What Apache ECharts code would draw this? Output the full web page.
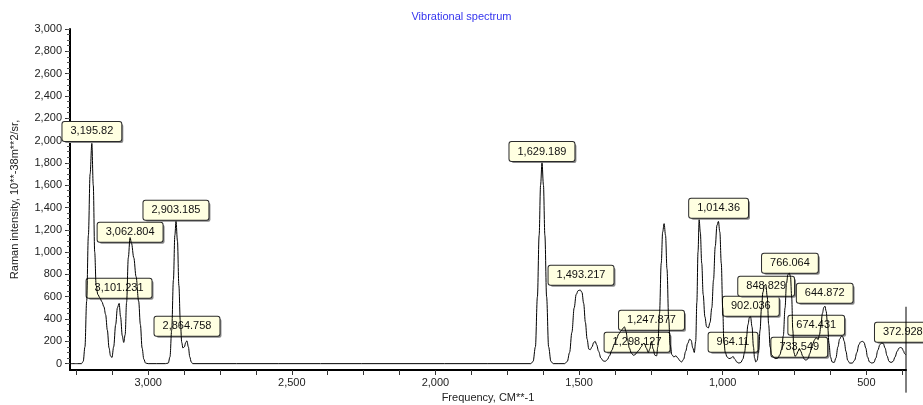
<!DOCTYPE html>
<html>
<head>
<meta charset="utf-8">
<script src="https://cdn.jsdelivr.net/npm/echarts@6/dist/echarts.min.js"></script>
<style>
html,body{margin:0;padding:0;background:#fff;}
#chart{width:923px;height:405px;}
</style>
</head>
<body>
<div id="chart"></div>
<script>
// ---- data ----
const specFreq = [3272,3245,3232,3226,3220,3214,3208,3202,3196,3191,3186,3181,3175,3168,3161,3154,3148,3142,3136,3131,3126,3120,3113,3107,3101,3096,3090,3085,3080,3075,3069,3063,3058,3050,3042,3033,3027,3021,3015,3009,3000,
2940,2930,2924,2918,2912,2907,2903,2898,2893,2888,2883,2879,2874,2869,2865,2860,2855,2850,2845,
1668,1660,1652,1645,1639,1634,1629,1624,1619,1613,1606,1598,1590,
1550,1541,1533,1525,1517,1510,1503,1496,1490,1484,1478,1472,1466,1461,1455,1449,1444,1439,1432,1424,1416,1409,1402,1394,1386,1378,1370,1362,1355,1349,1342,1337,1331,1325,1318,1311,1305,1299,1292,1284,1277,1272,1266,1259,1254,1248,1242,1236,1230,1226,1220,1214,1209,1204,1199,1194,1188,1183,1177,1170,1163,1156,1149,1143,1136,1129,1122,1115,1110,1104,1099,1094,1090,1086,1082,1078,1073,1068,1062,1056,1050,1044,1038,1032,1026,1020,1015,1010,1005,1000,996,991,985,978,971,964,958,951,944,937,930,924,918,912,907,903,898,893,889,885,880,875,870,865,860,855,850,845,840,835,830,822,815,808,801,795,789,783,778,773,768,764,760,756,752,748,743,738,733,728,722,716,710,703,697,691,686,681,676,672,668,663,658,653,648,644,640,635,630,625,619,612,606,599,593,587,582,577,571,565,558,549,541,533,526,520,514,508,502,496,489,481,474,467,460,453,447,441,435,428,421,414,407,400,393,386,381,376,371,367,363];
const specInt = [0,0,0,20,150,560,1150,1700,1975,1600,1000,700,620,590,555,510,440,300,140,70,55,150,350,500,540,420,250,190,260,550,950,1130,1080,950,780,560,350,140,40,5,0,
0,5,60,300,750,1150,1275,1100,700,380,190,140,150,190,205,150,60,15,0,
0,20,150,600,1150,1600,1800,1600,1150,600,150,20,0,
0,20,100,280,500,620,655,660,640,540,370,220,130,125,150,190,200,170,110,50,25,20,35,70,120,170,220,265,290,310,330,290,210,140,95,75,80,100,120,150,180,180,140,100,130,200,130,75,70,150,450,900,1180,1255,1150,850,400,170,80,60,70,50,25,15,40,110,180,220,210,140,100,200,550,1000,1290,1180,900,620,420,330,320,370,500,750,1050,1240,1275,1180,900,500,200,100,60,45,50,65,40,15,5,10,40,100,220,350,415,420,330,150,50,15,30,120,300,500,640,700,710,600,350,150,80,55,45,50,80,130,250,500,720,800,810,780,600,300,100,65,80,110,135,110,70,40,30,45,90,140,180,210,230,230,215,260,350,450,505,515,470,350,180,60,15,10,50,150,220,245,240,200,110,30,5,5,30,100,170,195,200,190,140,60,15,5,10,50,120,170,185,180,140,70,20,10,20,60,110,140,145,140,115,90,80];

const labelText = ['3,195.82','3,101.231','3,062.804','2,903.185','2,864.758','1,629.189','1,493.217','1,247.877','1,298.127','1,014.36','964.11','902.036','848.829','766.064','674.431','644.872','733.549','372.928'];
const labelFreq = [3195.82,3101.231,3062.804,2903.185,2864.758,1629.189,1493.217,1247.877,1298.127,1014.36,964.11,902.036,848.829,766.064,674.431,644.872,733.549,372.928];
const labelInt  = [1970,564,1065,1262,224,1790,680,277,80,1280,80,403,582,788,233,519,36,170];

const xLabelValues = [3000,2500,2000,1500,1000,500];
const xTickValues  = [3250,3125,3000,2875,2750,2625,2500,2375,2250,2125,2000,1875,1750,1625,1500,1375,1250,1125,1000,875,750,625,500,375];
const yLabelValues = [0,200,400,600,800,1000,1200,1400,1600,1800,2000,2200,2400,2600,2800,3000];

const cursorFreq = 362;
const cursorTop = 510;
const cursorBottom = -260;

// ---- layout / style ----
const FAMILY = '"Liberation Sans", Arial, sans-serif';
const FONT = '11px ' + FAMILY;
const yMinor = [];
for (let v = 0; v <= 3000; v += 50) yMinor.push(v);

const chart = echarts.init(document.getElementById('chart'), null, {renderer: 'canvas'});

const lineData = specFreq.map((f, i) => [f, specInt[i]]);
const labelData = labelFreq.map((f, i) => [f, labelInt[i]]);

const fmt = v => Number(v).toLocaleString('en-US');

const option = {
  animation: false,
  backgroundColor: '#ffffff',
  title: {
    text: 'Vibrational spectrum',
    left: 'center',
    top: 11,
    padding: 0,
    textStyle: {color: '#3535ee', fontSize: 11, fontWeight: 'normal', fontFamily: FAMILY}
  },
  grid: {left: 70, right: 17, top: 29, bottom: 35, containLabel: false, outerBoundsMode: 'none'},
  xAxis: {
    type: 'value',
    inverse: true,
    min: cursorFreq,
    max: 3272,
    name: 'Frequency, CM**-1',
    nameLocation: 'middle',
    nameGap: 21,
    nameTextStyle: {color: '#222', fontSize: 11, fontFamily: FAMILY},
    axisLine: {show: true, onZero: false, lineStyle: {color: '#000', width: 2}},
    axisTick: {show: true, length: 5, customValues: xTickValues, lineStyle: {color: '#333'}},
    axisLabel: {customValues: xLabelValues, formatter: fmt, color: '#222', fontSize: 11, margin: 7, fontFamily: FAMILY},
    splitLine: {show: false}
  },
  yAxis: [{
    type: 'value',
    min: -57,
    max: 3000,
    name: 'Raman intensity, 10**-38m**2/sr,',
    nameLocation: 'middle',
    nameGap: 50,
    nameTextStyle: {color: '#222', fontSize: 11, fontFamily: FAMILY},
    axisLine: {show: true, onZero: false, lineStyle: {color: '#000', width: 2}},
    axisTick: {show: true, length: 5, customValues: yLabelValues, lineStyle: {color: '#333'}},
    axisLabel: {customValues: yLabelValues, formatter: fmt, color: '#222', fontSize: 11, margin: 8, fontFamily: FAMILY},
    splitLine: {show: false}
  }, {
    type: 'value',
    min: -57,
    max: 3000,
    position: 'left',
    axisLine: {show: false},
    axisTick: {show: true, length: 3, customValues: yMinor, lineStyle: {color: '#555'}},
    axisLabel: {show: false},
    splitLine: {show: false}
  }],
  series: [{
    type: 'custom',
    z: 2,
    clip: false,
    data: labelData,
    encode: {x: 0, y: 1},
    renderItem: function (params, api) {
      const p = api.coord([api.value(0), api.value(1)]);
      const t = labelText[params.dataIndex];
      const base = {
        text: t, font: FONT, align: 'center', verticalAlign: 'bottom',
        padding: [3, 8, 3, 8], lineHeight: 13, borderRadius: 2
      };
      return {
        type: 'group',
        children: [{
          type: 'text', x: p[0] + 2, y: p[1] - 3 + 2,
          style: Object.assign({}, base, {fill: 'rgba(0,0,0,0)', backgroundColor: '#8a8a8a'})
        }, {
          type: 'text', x: p[0], y: p[1] - 3,
          style: Object.assign({}, base, {fill: '#111', backgroundColor: '#ffffe1', borderColor: '#2a2a2a', borderWidth: 1})
        }]
      };
    }
  }, {
    type: 'line',
    z: 5,
    data: lineData,
    showSymbol: false,
    smooth: 0.35,
    smoothMonotone: 'x',
    lineStyle: {color: '#000', width: 1},
    silent: true
  }]
};
chart.setOption(option);

const pTop = chart.convertToPixel({xAxisIndex: 0, yAxisIndex: 0}, [cursorFreq, cursorTop]);
const pBot = chart.convertToPixel({xAxisIndex: 0, yAxisIndex: 0}, [cursorFreq, cursorBottom]);
chart.setOption({
  graphic: [{
    type: 'line', z: 10,
    shape: {x1: pTop[0], y1: pTop[1], x2: pBot[0], y2: pBot[1]},
    style: {stroke: '#000', lineWidth: 1}
  }]
});
</script>
</body>
</html>
